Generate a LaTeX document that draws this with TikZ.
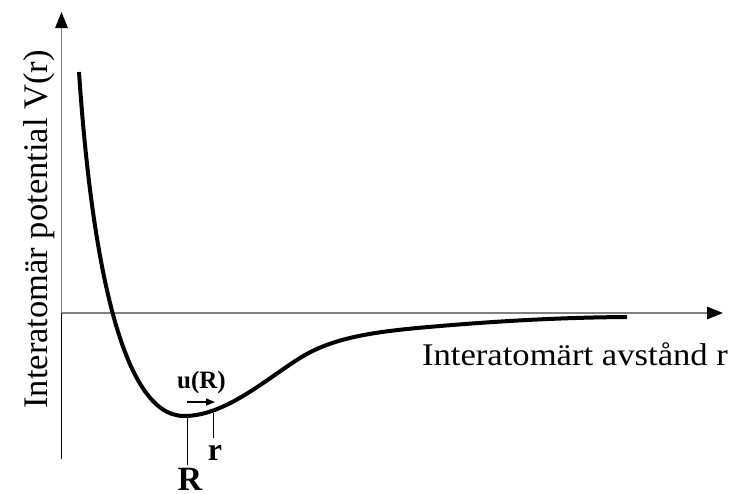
\documentclass[tikz,border=0pt]{standalone}
\usepackage{fontspec}
\setmainfont{Liberation Serif}
\usetikzlibrary{arrows.meta}
\tikzset{
  axisline/.style={draw=black!50, line width=1.4pt, -{Triangle[length=16pt,width=12.5pt,color=black]}},
  curveline/.style={line width=4pt, line cap=butt},
  tickline/.style={line width=1pt},
  biglabel/.style={font=\fontsize{34.5}{40}\selectfont, inner sep=0pt},
}
\begin{document}
\begin{tikzpicture}[x=1pt,y=-1pt]
\useasboundingbox (0,0) rectangle (742,493);
% axes
\coordinate (yb) at (61.5,459);
\coordinate (yo) at (61.5,313);
\coordinate (yt) at (61.5,12);
\coordinate (xo) at (61.5,313);
\coordinate (xt) at (723,313);
\draw[line width=1.2pt] (yb) -- (yo);
\draw[axisline] (yo) -- (yt);
\draw[axisline] (xo) -- (xt);
% potential curve
\coordinate (c0) at (79,72);
\coordinate (cmin) at (184,416);
\coordinate (cinf) at (300,358);
\coordinate (c3) at (440,326);
\coordinate (cend) at (627,317);
\draw[curveline] (c0) .. controls (91,250) and (120,416) .. (cmin)
  .. controls (225,416) and (265,380) .. (cinf)
  .. controls (335,336) and (380,331) .. (c3)
  .. controls (500,321) and (560,317.5) .. (cend);
% labels
\node[biglabel, rotate=90, anchor=base] (ylab) at (47,229.5) {Interatomär potential V(r)};
\node[font=\fontsize{31.5}{38}\selectfont, inner sep=0pt, anchor=base, xscale=1.1] (xlab) at (575,365) {Interatomärt avstånd r};
% R and r markers
\coordinate (Rtop) at (187,417);
\coordinate (Rbot) at (187,465);
\coordinate (rtop) at (213.5,413);
\coordinate (rbot) at (213.5,438);
\draw[tickline] (Rtop) -- (Rbot);
\draw[tickline] (rtop) -- (rbot);
\node[font=\fontsize{34}{40}\selectfont\bfseries, inner sep=0pt, text depth=0pt, anchor=base] (Rlab) at (190,490) {R};
\node[font=\fontsize{32}{38}\selectfont\bfseries, inner sep=0pt, anchor=base] (rlab) at (215,460) {r};
% displacement u(R)
\node[font=\fontsize{25}{30}\selectfont\bfseries, inner sep=0pt, anchor=base] (ulab) at (201.5,388) {u(R)};
\coordinate (ua) at (187,402);
\coordinate (ub) at (215,402);
\draw[line width=1.5pt, -{Triangle[length=9pt,width=7pt]}] (ua) -- (ub);
\end{tikzpicture}
\end{document}
